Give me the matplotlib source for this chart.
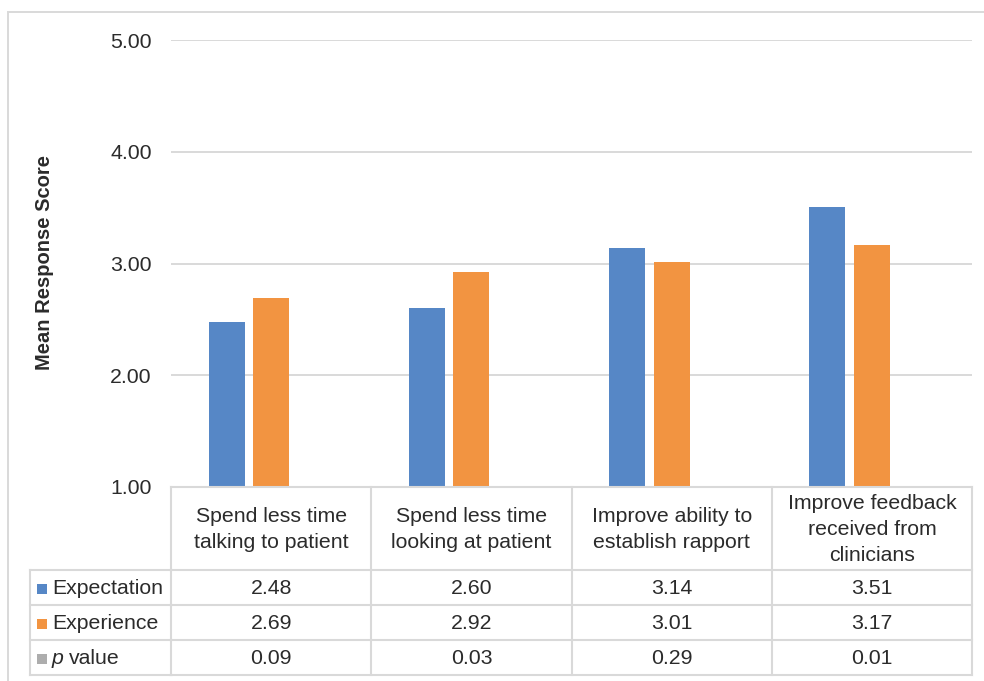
import matplotlib
matplotlib.use("Agg")
import matplotlib.pyplot as plt
import matplotlib.transforms as mtransforms
from matplotlib.patches import Rectangle
from matplotlib.lines import Line2D
import numpy as np

plt.rcParams['font.family'] = ['Liberation Sans', 'DejaVu Sans']

categories = ["Spend less time\ntalking to patient",
              "Spend less time\nlooking at patient",
              "Improve ability to\nestablish rapport",
              "Improve feedback\nreceived from\nclinicians"]
series_names = ["Expectation", "Experience", "p value"]
expectation = [2.48, 2.60, 3.14, 3.51]
experience = [2.69, 2.92, 3.01, 3.17]
p_value = [0.09, 0.03, 0.29, 0.01]
yticks = [1.00, 2.00, 3.00, 4.00, 5.00]

colors = ["#5687C6", "#F29441", "#ADADAD"]
text_color = "#2B2B2B"
line_color = "#D9D9D9"
FS = 15.3

W, H = 984, 681
fig = plt.figure(figsize=(W / 100, H / 100), dpi=100)

def fx(px):
    return px / W

def fy(py):
    return 1 - py / H

ax_left, ax_right, ax_top, ax_bottom = 171, 972, 40, 487
ax = fig.add_axes([fx(ax_left), fy(ax_bottom), fx(ax_right - ax_left), fy(ax_top) - fy(ax_bottom)])

x = np.arange(len(categories))
width = 0.18
offsets = [-0.2225, 0.0, 0.2225]
all_series = [expectation, experience, p_value]
for vals, off, c in zip(all_series, offsets, colors):
    ax.bar(x + off, vals, width=width, color=c, zorder=3)

ax.set_xlim(-0.5, len(categories) - 0.5)
ax.set_ylim(1, 5)
ax.set_yticks(yticks)
ax.set_yticklabels([f"{v:.2f}" for v in yticks], fontsize=FS, color=text_color)
ax.set_xticks([])
ax.tick_params(axis='y', length=0, pad=14)
ax.grid(axis='y', color=line_color, lw=1.4, zorder=0)
for s in ax.spines.values():
    s.set_visible(False)

fig.text(fx(45), fy(263), "Mean Response Score", rotation=90, ha='center', va='center',
         fontsize=14.5, fontweight='bold', color=text_color)

# Outer chart border
fig.add_artist(Rectangle((fx(8), fy(700)), fx(1000), fy(12) - fy(700), transform=fig.transFigure,
                         fill=False, edgecolor=line_color, lw=1.4))

# Data table
bt = mtransforms.blended_transform_factory(ax.transData, fig.transFigure)
tab_top, head_bot = 487, 570
row_bounds = [570, 605, 640, 675]
leg_left = 30

def hline(x0, x1, y, trans):
    fig.add_artist(Line2D([x0, x1], [fy(y), fy(y)], transform=trans, color=line_color, lw=1.5))

def vline(xv, y0, y1, trans):
    fig.add_artist(Line2D([xv, xv], [fy(y0), fy(y1)], transform=trans, color=line_color, lw=1.5))

xl, xr = -0.5, len(categories) - 0.5
hline(xl, xr, tab_top, bt)
for yb in row_bounds:
    hline(xl, xr, yb, bt)
    hline(fx(leg_left), fx(ax_left), yb, fig.transFigure)
for i in range(len(categories) + 1):
    vline(i - 0.5, tab_top, row_bounds[-1], bt)
vline(fx(leg_left), row_bounds[0], row_bounds[-1], fig.transFigure)

# header texts
for i, cat in enumerate(categories):
    fig.text(i, fy((tab_top + head_bot) / 2 + 1), cat, transform=bt, ha='center', va='center',
             fontsize=FS, color=text_color, linespacing=1.45)

# rows
for r, (name, vals, c) in enumerate(zip(series_names, all_series, colors)):
    yc = (row_bounds[r] + row_bounds[r + 1]) / 2 + 1
    fig.add_artist(Rectangle((fx(37), fy(yc + 5)), fx(10), fy(yc - 5) - fy(yc + 5),
                             transform=fig.transFigure, color=c, lw=0))
    if name == "p value":
        fig.text(fx(52), fy(yc), "p", style='italic', ha='left', va='center', fontsize=FS, color=text_color)
        fig.text(fx(69), fy(yc), "value", ha='left', va='center', fontsize=FS, color=text_color)
    else:
        fig.text(fx(52), fy(yc), name, ha='left', va='center', fontsize=FS, color=text_color)
    for i, v in enumerate(vals):
        fig.text(i, fy(yc), f"{v:.2f}", transform=bt, ha='center', va='center',
                 fontsize=FS, color=text_color)

fig.savefig("out.png", dpi=100, facecolor="white")
